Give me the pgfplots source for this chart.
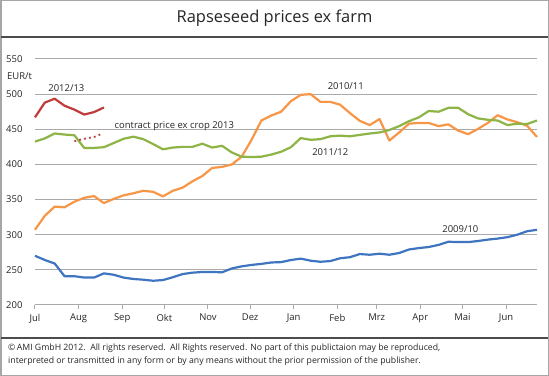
\documentclass[border=0pt]{standalone}
\usepackage{pgfplots}
\pgfplotsset{compat=1.18}
\usepackage{fontspec}
\setmainfont{Open Sans}
\definecolor{cRed}{RGB}{192,60,60}
\definecolor{cOrange}{RGB}{247,150,70}
\definecolor{cGreen}{RGB}{141,180,69}
\definecolor{cBlue}{RGB}{63,117,192}
\definecolor{cGrid}{RGB}{170,170,170}
\begin{document}
\begin{tikzpicture}
\useasboundingbox (0,0) rectangle (549bp,376bp);
\fill[white] (0,0) rectangle (549bp,376bp);
\draw[gray!70, line width=1.5bp] (0.75bp,0.75bp) rectangle (548.25bp,375.25bp);
\draw[black!70, line width=1.5bp] (0.75bp,339bp) -- (548.25bp,339bp);
\draw[black!70, line width=1.2bp] (0.75bp,38bp) -- (548.25bp,38bp);
\node[font=\fontsize{16.5}{18}\selectfont, text=black!85] at (274.5bp,358bp) {Rapseseed prices ex farm};
\node[anchor=west, font=\fontsize{8.75}{10}\selectfont, text=black!85, inner sep=0] at (8bp,28bp) {\textcopyright\,AMI GmbH 2012.\ \ All rights reserved.\ \ All Rights reserved. No part of this publictaion may be reproduced,};
\node[anchor=west, font=\fontsize{8.75}{10}\selectfont, text=black!85, inner sep=0] at (8bp,15bp) {interpreted or transmitted in any form or by any means without\ the prior permission of the publisher.};
\begin{axis}[
  at={(35bp,71bp)}, anchor=south west,
  scale only axis, width=502bp, height=246bp,
  xmin=0, xmax=357, ymin=200, ymax=550,
  axis x line*=bottom, axis y line*=left,
  y axis line style={draw=none},
  x axis line style={cGrid, line width=1bp},
  ytick={200,250,...,550},
  ymajorgrids, grid style={cGrid, line width=1bp},
  ytick style={draw=none},
  xtick={0,31,62,92,123,153,184,215,243,274,304,335},
  xticklabels={Jul,Aug,Sep,Okt,Nov,Dez,Jan,Feb,Mrz,Apr,Mai,Jun},
  xtick style={cGrid, line width=1bp},
  tick align=outside, major tick length=4bp,
  ticklabel style={font=\fontsize{9.5}{11}\selectfont, text=black!85},
  yticklabel style={xshift=-5bp},
  xticklabel style={yshift=-1.5bp},
  /pgf/number format/assume math mode=true,
  clip=false,
]
\addplot[cBlue, line width=2.2bp, line join=round] coordinates {
(0,270)(7,264)(14,259)(21,241)(28,241)(35,239)(42,239)(49,245)(56,243)(63,239)(70,237)(77,236)(84,234.5)
(91,235.5)(98,239.5)(105,244)(112,246)(119,247)(126,247)(133,246.5)(140,252)(147,255)(154,257)(161,258.5)
(168,260.5)(175,261)(182,264)(189,266)(196,263)(203,261.5)(210,262.5)(217,266.5)(224,268)(231,272.5)
(238,271.5)(245,273)(252,271.5)(259,274)(266,279)(273,281)(280,282.5)(287,285.5)(294,290)(301,289.5)
(308,289.5)(315,291)(322,293)(329,294.5)(336,296.5)(343,300)(350,305)(357,307)};
\addplot[cOrange, line width=2.2bp, line join=round] coordinates {
(0,307)(7,327)(14,340)(21,339)(28,347)(35,352.5)(42,355)(49,345)(56,351)(63,356)(70,359)(77,362.5)(84,361)
(91,354.5)(98,362.5)(105,367)(112,376)(119,383.5)(126,395)(133,396.5)(140,400)(147,411)(154,435)(161,462.5)
(168,469.5)(175,475)(182,490)(189,499)(196,500)(203,489)(210,489)(217,485)(224,473)(231,462)
(238,456)(245,464.5)(252,434)(259,445.5)(266,458)(273,459)(280,459)(287,454.5)(294,457)(301,448)
(308,443)(315,450.5)(322,459)(329,470)(336,464)(343,460)(350,455)(357,439)};
\addplot[cGreen, line width=2.2bp, line join=round] coordinates {
(0,432.5)(7,437)(14,444)(21,442.5)(28,441.5)(35,423.5)(42,423.5)(49,424.5)(56,430.5)(63,436.5)(70,439.5)(77,436)(84,429)
(91,421.5)(98,424)(105,425)(112,425)(119,429.5)(126,424)(133,426.5)(140,417)(147,411)(154,410.5)(161,411)
(168,414)(175,418)(182,424.5)(189,437.5)(196,435)(203,436)(210,440)(217,441)(224,440)(231,442)
(238,444)(245,445.5)(252,449)(259,454.5)(266,461.5)(273,467)(280,476)(287,475)(294,480.5)(301,480.5)
(308,471.5)(315,465.5)(322,463.5)(329,462.5)(336,456)(343,458)(350,457.5)(357,462.5)};
\addplot[cRed, line width=2.2bp, line join=round] coordinates {
(0,467)(7,488)(14,493.5)(21,483.5)(28,478)(35,471)(42,474.5)(49,481)};
\addplot[cRed, line width=1.8bp, dash pattern=on 1.8bp off 3.2bp] coordinates {
(28,433)(35,436.5)(42,439)(48,444)};
\node[font=\fontsize{9.5}{11}\selectfont, text=black!85] at (axis cs:-11,526) {EUR/t};
\node[font=\fontsize{9.5}{11}\selectfont, text=black!85] at (axis cs:22.3,509) {2012/13};
\node[anchor=west, inner sep=0, font=\fontsize{9.5}{11}\selectfont, text=black!85] at (axis cs:56.5,455) {contract price ex crop 2013};
\node[font=\fontsize{9.5}{11}\selectfont, text=black!85] at (axis cs:221,511.5) {2010/11};
\node[font=\fontsize{9.5}{11}\selectfont, text=black!85] at (axis cs:210,417.5) {2011/12};
\node[font=\fontsize{9.5}{11}\selectfont, text=black!85] at (axis cs:302.5,308) {2009/10};
\end{axis}
\end{tikzpicture}
\end{document}
